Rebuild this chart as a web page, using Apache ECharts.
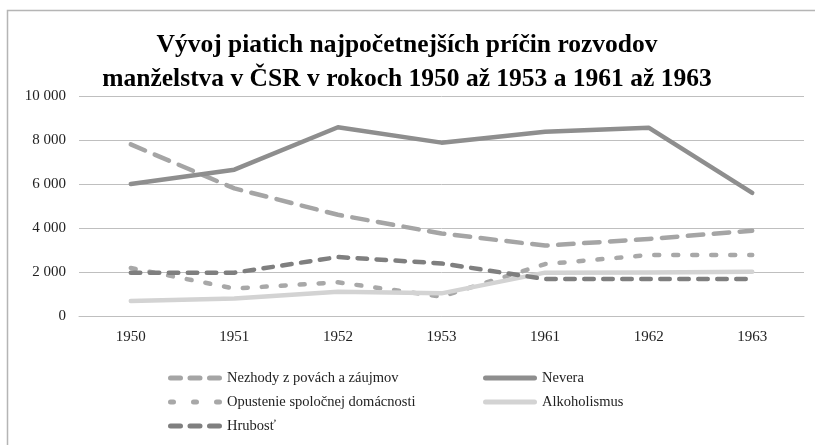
<!DOCTYPE html>
<html>
<head>
<meta charset="utf-8">
<script src="https://cdn.jsdelivr.net/npm/echarts@6/dist/echarts.min.js"></script>
<style>
	html, body { margin: 0; padding: 0; background: #fff; }
	#chart { width: 815px; height: 445px; }
</style>
</head>
<body>
<div id="chart"></div>
<script>
	let years = ['1950', '1951', '1952', '1953', '1961', '1962', '1963'];
	let nezhody = [7800, 5800, 4600, 3750, 3200, 3500, 3880];
	let nevera = [6000, 6650, 8580, 7880, 8380, 8560, 5600];
	let opustenie = [2180, 1250, 1530, 880, 2360, 2770, 2770];
	let alkoholizmus = [680, 800, 1100, 1030, 1970, 1980, 2010];
	let hrubost = [1970, 1970, 2680, 2390, 1680, 1680, 1680];

	let font = '"Liberation Serif", "DejaVu Serif", serif';
	let myChart = echarts.init(document.getElementById('chart'));

	// legend icon made of rounded dashes, box 54 x 5
	function dashIcon(parts) {
		let d = '';
		parts.forEach(function (p) {
			let a = p[0] + 2.5, b = p[1] - 2.5;
			d += 'M' + a + ',0 H' + b + ' A2.5,2.5 0 0 1 ' + b + ',5 H' + a + ' A2.5,2.5 0 0 1 ' + a + ',0 Z ';
		});
		return 'path://' + d;
	}
	let longDash = dashIcon([[0, 15], [19.5, 34.5], [39, 54]]);
	let dotDash = dashIcon([[0, 8], [23, 31], [46, 54]]);
	let solidBar = dashIcon([[0, 54]]);

	function line(name, data, color, type) {
		return {
			name: name,
			type: 'line',
			data: data,
			symbol: 'none',
			lineStyle: { color: color, width: 4.5, type: type, cap: 'round', join: 'round' },
			itemStyle: { color: color }
		};
	}

	let legendCommon = {
		orient: 'vertical',
		top: 365,
		itemWidth: 54,
		itemHeight: 5,
		itemGap: 8,
		textStyle: { fontFamily: font, fontSize: 14.5, lineHeight: 16, color: '#222' }
	};

	myChart.setOption({
		animation: false,
		backgroundColor: '#fff',
		textStyle: { fontFamily: font },
		graphic: [{
			type: 'rect',
			shape: { x: 7.5, y: 10.5, width: 900, height: 500 },
			style: { fill: 'none', stroke: '#b5b5b5', lineWidth: 1.5 }
		}],
		title: {
			text: 'Vývoj piatich najpočetnejších príčin rozvodov\nmanželstva v ČSR v rokoch 1950 až 1953 a 1961 až 1963',
			left: 402,
			textAlign: 'center',
			top: 23,
			textStyle: { fontFamily: font, fontSize: 25.5, fontWeight: 'bold', color: '#000', lineHeight: 34 }
		},
		grid: { left: 79, right: 11, top: 96, bottom: 129, containLabel: false },
		xAxis: {
			type: 'category',
			data: years,
			boundaryGap: true,
			axisLine: { lineStyle: { color: '#bfbfbf', width: 1 } },
			axisTick: { show: false },
			axisLabel: { color: '#222', fontSize: 15, fontFamily: font, margin: 14 }
		},
		yAxis: {
			type: 'value',
			min: 0,
			max: 10000,
			interval: 2000,
			axisLine: { show: false },
			axisTick: { show: false },
			splitLine: { lineStyle: { color: '#bfbfbf', width: 1 } },
			axisLabel: {
				color: '#222', fontSize: 15, fontFamily: font, margin: 13,
				formatter: function (v) {
					return String(v).replace(/\B(?=(\d{3})+(?!\d))/g, ' ');
				}
			}
		},
		legend: [
			Object.assign({}, legendCommon, {
				left: 163,
				data: [
					{ name: 'Nezhody z povách a záujmov', icon: longDash },
					{ name: 'Opustenie spoločnej domácnosti', icon: dotDash },
					{ name: 'Hrubosť', icon: longDash }
				]
			}),
			Object.assign({}, legendCommon, {
				left: 478,
				data: [
					{ name: 'Nevera', icon: solidBar },
					{ name: 'Alkoholismus', icon: solidBar }
				]
			})
		],
		series: [
			line('Nezhody z povách a záujmov', nezhody, '#a5a5a5', [15.5, 10.5]),
			line('Nevera', nevera, '#8e8e8e', 'solid'),
			line('Opustenie spoločnej domácnosti', opustenie, '#a8a8a8', [5, 14]),
			line('Alkoholismus', alkoholizmus, '#d3d3d3', 'solid'),
			line('Hrubosť', hrubost, '#7f7f7f', [9.5, 9.5])
		]
	});
</script>
</body>
</html>
